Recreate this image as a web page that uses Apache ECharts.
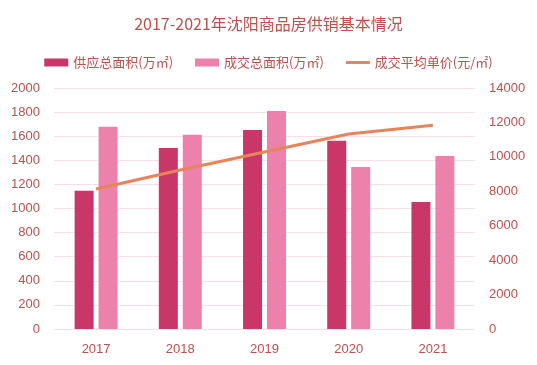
<!DOCTYPE html>
<html><head><meta charset="utf-8">
<script src="https://cdn.jsdelivr.net/npm/echarts@6/dist/echarts.min.js"></script>
<style>html,body{margin:0;padding:0;background:#fff}#c{width:537px;height:365px}</style>
</head><body><div id="c"></div>
<script>
const categories = ['2017','2018','2019','2020','2021'];
const supplyArea = [1148, 1502, 1651, 1563, 1054];
const dealArea = [1679, 1613, 1809, 1344, 1436];
const avgPrice = [8130, 9240, 10280, 11330, 11830];
const leftTicks = {min:0, max:2000, interval:200};
const rightTicks = {min:0, max:14000, interval:2000};
const textColor = '#c0504d';
const chart = echarts.init(document.getElementById('c'));
const plain = v => String(v);
chart.setOption({
  animation:false,
  title:{text:'2017-2021年沈阳商品房供销基本情况', left:'center', top:11,
    textStyle:{color:textColor, fontSize:16, fontWeight:'normal', fontFamily:'Noto Sans CJK SC'}},
  legend:{top:51, left:'center', itemWidth:24, itemHeight:8, itemGap:22,
    textStyle:{color:textColor, fontSize:13, fontFamily:'Noto Sans CJK SC'},
    data:[{name:'供应总面积(万㎡)', icon:'rect'},{name:'成交总面积(万㎡)', icon:'rect'},
      {name:'成交平均单价(元/㎡)', icon:'path://M0,0h24v3h-24z'}]},
  grid:{left:54, right:62, top:88, bottom:36},
  xAxis:{type:'category', data:categories,
    axisLine:{show:false}, axisTick:{show:false},
    axisLabel:{color:textColor, fontSize:13, margin:14}},
  yAxis:[
    {type:'value', min:leftTicks.min, max:leftTicks.max, interval:leftTicks.interval,
      axisLine:{show:false}, axisTick:{show:false},
      axisLabel:{color:textColor, fontSize:13, margin:14, formatter:plain},
      splitLine:{lineStyle:{color:'#f8e0e4'}}},
    {type:'value', min:rightTicks.min, max:rightTicks.max, interval:rightTicks.interval,
      axisLine:{show:false}, axisTick:{show:false},
      axisLabel:{color:textColor, fontSize:13, margin:14, formatter:plain},
      splitLine:{show:false}}
  ],
  series:[
    {name:'供应总面积(万㎡)', type:'bar', data:supplyArea, barWidth:19, barGap:'26%',
      itemStyle:{color:'#c83768'}},
    {name:'成交总面积(万㎡)', type:'bar', data:dealArea, barWidth:19,
      itemStyle:{color:'#ec82ab'}},
    {name:'成交平均单价(元/㎡)', type:'line', yAxisIndex:1, data:avgPrice,
      symbol:'none', lineStyle:{color:'#e8845a', width:3}, itemStyle:{color:'#e8845a'}}
  ]
});
</script></body></html>
